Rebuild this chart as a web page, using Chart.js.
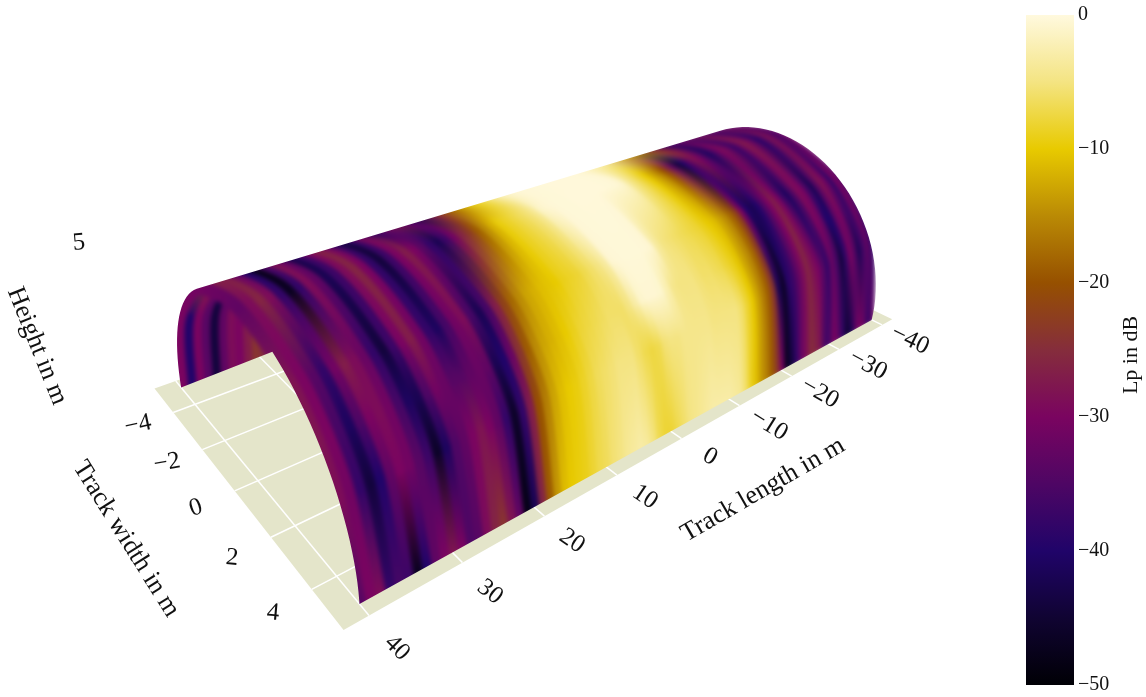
<!DOCTYPE html>
<html>
<head>
<meta charset="utf-8">
<script src="https://cdn.jsdelivr.net/npm/chart.js@4"></script>
<style>
body { margin: 0; background: #fff; }
canvas { position: absolute; top: 0; }
</style>
</head>
<body>
<canvas id="tunnel" width="1146" height="697" style="left:0"></canvas>
<canvas id="colorbar" width="120" height="697" style="left:1026px"></canvas>
<script>
// track positions of the rings, -40 .. 40 m in 1 m steps
const trackLengths = [-40,-39,-38,-37,-36,-35,-34,-33,-32,-31,-30,-29,-28,-27,-26,-25,-24,-23,-22,-21,-20,-19,-18,-17,-16,-15,-14,-13,-12,-11,-10,-9,-8,-7,-6,-5,-4,-3,-2,-1,0,1,2,3,4,5,6,7,8,9,10,11,12,13,14,15,16,17,18,19,20,21,22,23,24,25,26,27,28,29,30,31,32,33,34,35,36,37,38,39,40];
const archAngles = [0, 30, 45, 60, 90, 120, 150, 180];

// Lp in dB, one list per arc position, same order as trackLengths
const lp0 = [-32,-38,-33,-30,-33,-42,-45,-38,-33,-30,-36,-36,-28,-26,-25,-29,-32,-38,-44,-47,-30,-23,-19,-16,-14,-11,-9,-6,-4,-3.5,-3,-3,-3,-3,-3.5,-4,-4.5,-5,-6,-7,-8,-8,-7,-5,-3.5,-3,-3.5,-4,-5,-5.5,-6.5,-7,-8,-9,-9.5,-10,-11,-14,-19,-26,-42,-48,-33,-28,-24,-26,-29,-34,-35,-30,-28,-30,-33,-40,-47,-37,-36,-38,-29,-30,-34];
const lp30 = [-38,-33,-36,-42,-34,-30,-38,-44,-36,-32,-38,-34,-30,-28,-26,-29,-33,-37,-39,-46,-42,-24,-19,-16,-13,-10,-8,-6,-5,-5,-5,-5,-5,-4.5,-4.5,-4.5,-4.5,-4.5,-5,-5,-5.5,-7,-7.5,-7,-6,-5,-5,-5,-5.5,-6,-6.5,-7.5,-8.5,-9.5,-10,-11,-13,-16,-20,-27,-38,-46,-38,-33,-30,-28,-30,-33,-35,-41,-46,-37,-34,-31,-30,-33,-40,-44,-38,-31,-29];
const lp45 = [-36,-31,-37,-36,-30,-32,-40,-40,-32,-30,-36,-38,-33,-29,-26,-30,-34,-38,-41,-44,-36,-23,-18,-15,-13,-10.5,-9,-8,-7,-6.5,-6,-6,-5.5,-5,-5,-5,-4.5,-2.5,-0.8,-0.6,-0.6,-1,-3,-5,-6,-6,-6,-6.5,-7,-7.5,-8,-9,-10,-11,-12,-13,-15,-19,-24,-32,-40,-42,-33,-32,-33,-34,-34,-32,-31,-35,-42,-41,-36,-31,-29,-30,-35,-41,-36,-30,-28];
const lp60 = [-34,-30,-38,-31,-28,-34,-42,-36,-30,-29,-35,-41,-37,-30,-27,-30,-35,-40,-42,-40,-30,-22,-18,-15,-13,-11,-10,-9,-8,-7.5,-7,-6.5,-6,-5.5,-5,-3.5,-0.6,-0.4,-0.3,-0.3,-0.3,-0.4,-0.6,-3.5,-5,-6,-7,-8,-8.5,-9,-10,-10.5,-11,-12,-13,-15,-18,-22,-27,-36,-42,-36,-29,-31,-36,-41,-38,-31,-27,-30,-37,-44,-38,-32,-29,-27,-31,-38,-34,-30,-28];
const lp90 = [-30,-36,-33,-28,-34,-40,-34,-29,-27,-32,-38,-33,-29,-31,-37,-41,-35,-30,-28,-33,-40,-44,-34,-26,-20,-16,-13,-10,-8,-6,-4,-1,-0.4,-0.3,-0.2,-0.2,-0.2,-0.2,-0.2,-0.2,-0.3,-0.3,-0.4,-0.6,-1.2,-4,-5.5,-6.5,-7.5,-8.5,-9.5,-12,-15,-19,-23,-26,-31,-37,-42,-38,-34,-30,-27,-30,-37,-44,-38,-30,-26,-29,-37,-42,-33,-29,-38,-47,-38,-29,-26,-29,-33];
const lp120 = [-33,-29,-36,-33,-28,-33,-40,-34,-29,-27,-33,-40,-34,-30,-42,-36,-28,-22,-18,-15,-13,-11,-9,-7,-5,-2.5,-0.6,-0.3,-0.2,-0.2,-0.2,-0.2,-0.2,-0.2,-0.2,-0.2,-0.2,-0.2,-0.3,-0.3,-0.4,-0.5,-0.8,-2,-3.5,-5,-7,-9,-11,-14,-18,-21,-24,-28,-36,-43,-36,-30,-27,-29,-35,-41,-34,-29,-38,-44,-36,-29,-26,-30,-37,-43,-32,-28,-35,-48,-40,-32,-27,-26,-31];
const lpFar = [-33,-30,-35,-33,-29,-33,-39,-34,-30,-28,-33,-39,-34,-32,-42,-33,-25,-18,-15,-13,-12,-10,-8,-5.5,-3.5,-1,-1,-1,-1,-1,-1,-1,-1,-1,-1.2,-1.5,-2,-2.5,-3,-3.5,-4,-5,-6,-7.5,-9,-11,-13,-16,-20,-24,-29,-35,-42,-35,-30,-28,-31,-37,-42,-35,-30,-28,-32,-38,-33,-29,-28,-31,-29,-27,-25,-24,-27,-30,-29,-33,-44,-34,-30,-40,-30];
const archColumns = [lp0, lp30, lp45, lp60, lp90, lp120, lpFar, lpFar];

const widthTicks = [-4, -2, 0, 2, 4];
const lengthTicks = [-40, -30, -20, -10, 0, 10, 20, 30, 40];
const colorStops = [[-50,[0,0,5]],[-45,[16,4,50]],[-40,[32,4,105]],[-35,[78,6,100]],[-30,[122,4,96]],[-25,[133,45,60]],[-20,[150,80,0]],[-15,[186,138,5]],[-10,[232,202,0]],[-5,[244,228,130]],[0,[255,249,222]]];

function lpColor(v) {
    let i = 0;
    while (i < colorStops.length - 2 && v > colorStops[i + 1][0]) i++;
    const a = colorStops[i], b = colorStops[i + 1];
    const t = Math.min(1, Math.max(0, (v - a[0]) / (b[0] - a[0])));
    const c = a[1].map((n, k) => Math.round(n + (b[1][k] - n) * t));
    return `rgb(${c[0]},${c[1]},${c[2]})`;
}

// camera, fitted by eye from the floor corners and tick positions
const A = 0.0048, B = -0.0224, C = -0.01766;
const VL = [1800, -195], VW = [-373, -285], VZ = [440, 2000], O = [554, 351];
function project(L, W, H) {
    const d = -L;
    const w = 1 + A * d + B * W + C * H;
    return {
        x: (A * d * VL[0] + B * W * VW[0] + C * H * VZ[0] + O[0]) / w,
        y: (A * d * VL[1] + B * W * VW[1] + C * H * VZ[1] + O[1]) / w
    };
}
const R = 5, HT = 4.7, SILHOUETTE = 120;
function archPoint(L, deg) {
    const t = deg * Math.PI / 180;
    return project(L, R * Math.cos(t), HT * Math.sin(t));
}

const datasets = [];
const floorLen = 42.5, floorWid = 5.4;
datasets.push({
    data: [project(floorLen, -floorWid, 0), project(floorLen, floorWid, 0), project(-floorLen, floorWid, 0), project(-floorLen, -floorWid, 0), project(floorLen, -floorWid, 0)],
    showLine: true, fill: 'shape', backgroundColor: '#e4e5ca', borderWidth: 0, pointRadius: 0, order: 3000
});
lengthTicks.forEach(L => datasets.push({
    data: [project(L, -floorWid, 0), project(L, floorWid, 0)],
    showLine: true, borderColor: '#fff', borderWidth: 1.5, pointRadius: 0, order: 2000
}));
widthTicks.forEach(W => datasets.push({
    data: [project(floorLen, W, 0), project(-floorLen, W, 0)],
    showLine: true, borderColor: '#fff', borderWidth: 1.5, pointRadius: 0, order: 2000
}));

const firstRing = datasets.length;
trackLengths.forEach((L, i) => {
    const a = archPoint(L, 0), b = archPoint(L + 1, 0);
    const strip = Math.hypot(a.x - b.x, a.y - b.y) * 1.2;
    datasets.push({
        data: archAngles.map((deg, k) => Object.assign(archPoint(L, deg), { lp: archColumns[k][i] })),
        showLine: true, pointRadius: 0, tension: 0.3, borderWidth: strip, borderCapStyle: 'round',
        order: 1000 - i,
        segment: {
            borderColor: ctx => {
                const ds = ctx.chart.data.datasets[ctx.datasetIndex].data;
                const g = ctx.chart.ctx.createLinearGradient(ctx.p0.x, ctx.p0.y, ctx.p1.x, ctx.p1.y);
                g.addColorStop(0, lpColor(ds[ctx.p0DataIndex].lp));
                g.addColorStop(1, lpColor(ds[ctx.p1DataIndex].lp));
                return g;
            }
        }
    });
});

const tickLabels = [
    ['40', 397, 648, 45], ['30', 490, 592, 38], ['20', 572, 541, 34], ['10', 645, 497, 34], ['0', 710, 457, 30],
    ['\u221210', 769, 425, 32], ['\u221220', 820, 393, 30], ['\u221230', 868, 365, 28], ['\u221240', 910, 340, 26],
    ['\u22124', 138, 425, -12], ['\u22122', 167, 463, -10], ['0', 196, 508, -18], ['2', 232, 558, 5], ['4', 273, 613, 5],
    ['5', 79, 243, -5]
];
const axisTitles = [
    ['Track length in m', 763, 490, -30], ['Track width in m', 126, 539, 58], ['Height in m', 37, 346, 68]
];

// outline of what is visible of the surface: near base, back ring, top edge, open front
function traceOutline(ctx) {
    const a = archPoint(40, 180), b = archPoint(0, 180);
    let cross = 0;
    while (cross < SILHOUETTE) {
        const p = archPoint(40, cross);
        if ((b.x - a.x) * (p.y - a.y) - (b.y - a.y) * (p.x - a.x) <= 0) break;
        cross += 1;
    }
    const pts = [archPoint(40, 0)];
    for (let deg = 0; deg <= SILHOUETTE; deg += 3) pts.push(archPoint(-40, deg));
    for (let deg = SILHOUETTE; deg <= 180; deg += 3) pts.push(archPoint(40, deg));
    for (let deg = cross; deg >= 0; deg -= 3) pts.push(archPoint(40, deg));
    ctx.beginPath();
    pts.forEach((p, i) => i ? ctx.lineTo(p.x, p.y) : ctx.moveTo(p.x, p.y));
    ctx.closePath();
}

let floorLayer = null;
function copyCanvas(src, blur) {
    const c = document.createElement('canvas');
    c.width = src.width; c.height = src.height;
    const x = c.getContext('2d');
    if (blur) x.filter = blur;
    x.drawImage(src, 0, 0);
    return c;
}

const softenSurface = {
    id: 'softenSurface',
    beforeDatasetDraw(chart, args) {
        if (args.index === firstRing) floorLayer = copyCanvas(chart.canvas);
    },
    afterDatasetsDraw(chart) {
        const ctx = chart.ctx;
        const soft = copyCanvas(chart.canvas, 'blur(2.3px)');
        ctx.save();
        ctx.clearRect(0, 0, chart.width, chart.height);
        ctx.drawImage(floorLayer, 0, 0);
        traceOutline(ctx);
        ctx.clip();
        ctx.drawImage(soft, 0, 0);
        ctx.restore();
    },
    afterDraw(chart) {
        const ctx = chart.ctx;
        const sx = chart.scales.x, sy = chart.scales.y;
        const put = (items, size) => items.forEach(([text, x, y, rot]) => {
            ctx.save();
            ctx.translate(sx.getPixelForValue(x), sy.getPixelForValue(y));
            ctx.rotate(rot * Math.PI / 180);
            ctx.font = size + 'px "Liberation Serif"';
            ctx.fillStyle = '#111';
            ctx.textAlign = 'center';
            ctx.textBaseline = 'middle';
            ctx.fillText(text, 0, 0);
            ctx.restore();
        });
        put(tickLabels, 25);
        put(axisTitles, 26);
    }
};

new Chart(document.getElementById('tunnel'), {
    type: 'scatter',
    data: { datasets },
    options: {
        responsive: false, animation: false,
        layout: { padding: 0 },
        plugins: { legend: { display: false }, tooltip: { enabled: false }, title: { display: false } },
        scales: {
            x: { type: 'linear', min: 0, max: 1146, display: false },
            y: { type: 'linear', min: 0, max: 697, reverse: true, display: false }
        }
    },
    plugins: [softenSurface]
});

const barRange = [[-50, 0]];
const barTitle = {
    id: 'barTitle',
    afterDraw(chart) {
        const ctx = chart.ctx;
        ctx.save();
        ctx.translate(105, 355);
        ctx.rotate(-Math.PI / 2);
        ctx.font = '22px "Liberation Serif"';
        ctx.fillStyle = '#111';
        ctx.textAlign = 'center';
        ctx.textBaseline = 'middle';
        ctx.fillText('Lp in dB', 0, 0);
        ctx.restore();
    }
};
new Chart(document.getElementById('colorbar'), {
    type: 'bar',
    data: {
        labels: ['Lp'],
        datasets: [{
            data: barRange,
            barPercentage: 1, categoryPercentage: 1, borderWidth: 0,
            backgroundColor: ctx => {
                const area = ctx.chart.chartArea;
                if (!area) return '#000';
                const g = ctx.chart.ctx.createLinearGradient(0, area.bottom, 0, area.top);
                colorStops.forEach(st => g.addColorStop((st[0] + 50) / 50, lpColor(st[0])));
                return g;
            }
        }]
    },
    options: {
        responsive: false, animation: false,
        layout: { padding: { top: 15, bottom: 12 } },
        plugins: { legend: { display: false }, tooltip: { enabled: false } },
        scales: {
            x: { display: false },
            y: {
                position: 'right', min: -50, max: 0,
                afterFit: s => { s.width = 72; s.paddingTop = 0; s.paddingBottom = 0; },
                grid: { display: false, drawTicks: false }, border: { display: false },
                ticks: {
                    stepSize: 10, padding: 4, color: '#111',
                    font: { family: 'Liberation Serif', size: 20 },
                    callback: v => String(v).replace('-', '\u2212')
                }
            }
        }
    },
    plugins: [barTitle]
});
</script>
</body>
</html>
